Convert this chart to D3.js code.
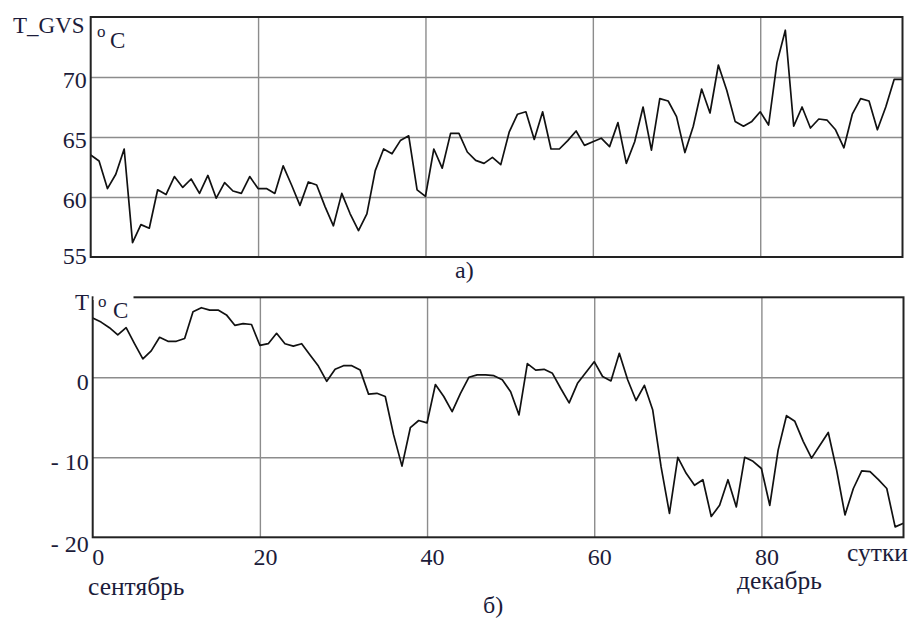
<!DOCTYPE html>
<html><head><meta charset="utf-8">
<script src="https://cdn.jsdelivr.net/npm/d3@7/dist/d3.min.js"></script>
<style>
body{margin:0;background:#fff}
svg{display:block}
svg text{font-family:"Liberation Serif","Times New Roman",serif !important;}
</style>
</head><body>
<script>
// ---- data ----
const days = d3.range(0, 98);
const tgvs = [63.5,63.0,60.7,61.9,64.0,56.2,57.7,57.4,60.6,60.2,
  61.7,60.8,61.5,60.3,61.8,59.9,61.2,60.5,60.3,61.7,
  60.7,60.7,60.3,62.6,61.0,59.3,61.25,61.0,59.2,57.6,
  60.3,58.6,57.2,58.6,62.2,64.0,63.6,64.7,65.1,60.6,
  60.05,64.0,62.4,65.3,65.3,63.75,63.05,62.8,63.3,62.7,
  65.4,66.9,67.1,64.8,67.1,64.0,64.0,64.7,65.5,64.3,
  64.6,64.9,64.2,66.2,62.8,64.6,67.5,63.9,68.2,68.0,
  66.7,63.7,65.9,69.0,67.0,71.0,68.9,66.3,65.9,66.3,
  67.1,66.0,71.2,73.9,65.9,67.5,65.75,66.5,66.4,65.6,
  64.1,66.9,68.2,68.0,65.6,67.5,69.8,69.8];
const tair = [7.4,6.9,6.2,5.3,6.2,4.2,2.3,3.3,5.0,4.5,
  4.5,4.85,8.2,8.7,8.4,8.4,7.8,6.5,6.7,6.6,
  4.0,4.2,5.5,4.2,3.9,4.2,2.8,1.4,-0.5,1.0,
  1.45,1.45,0.9,-2.1,-2.0,-2.4,-7.2,-11.1,-6.3,-5.4,
  -5.7,-0.9,-2.4,-4.3,-2.0,0,0.3,0.3,0.2,-0.3,
  -1.8,-4.7,1.7,0.9,1.0,0.5,-1.4,-3.2,-0.75,0.6,
  1.95,0.1,-0.45,3.0,-0.3,-2.9,-1.0,-4.1,-11.2,-17.0,
  -10.0,-12.0,-13.5,-12.8,-17.4,-16.0,-12.8,-16.2,-10.0,-10.5,
  -11.4,-16.0,-9.1,-4.8,-5.5,-8.0,-10.1,-8.5,-6.9,-11.6,
  -17.2,-13.9,-11.7,-11.8,-12.8,-13.9,-18.7,-18.25];
const xTicks = [0, 20, 40, 60, 80];
const topYTicks = [55, 60, 65, 70];
const botYTicks = [-20, -10, 0];
const fmtBot = v => v < 0 ? "- " + Math.abs(v) : String(v);

// ---- drawing ----
const W = 911, H = 621;
const FONT = '"Liberation Serif","Times New Roman",serif';
const TXT = "#1c1c3a";
const svg = d3.select("body").append("svg").attr("width", W).attr("height", H);

const xTop = d3.scaleLinear().domain([0, 97]).range([90.7, 902.5]);
const yTop = d3.scaleLinear().domain([55, 75]).range([257, 17]);
const xBot = d3.scaleLinear().domain([0, 97]).range([92.7, 903.5]);
const yBot = d3.scaleLinear().domain([-20, 10]).range([537.3, 297.3]);

function panel(x, y, yTicks, values, yFmt, dyFn, showX) {
  const g = svg.append("g");
  const [x0, x1] = x.range();
  const [yb, yt] = y.range();
  g.append("g").attr("transform", `translate(0,${yb})`)
    .call(d3.axisBottom(x).tickValues(xTicks.filter(t => t > 0)).tickSize(-(yb - yt)).tickFormat(""))
    .call(a => a.select(".domain").remove())
    .call(a => a.selectAll("line").attr("stroke", "#8c8c8c").attr("stroke-width", 1.4));
  g.append("g").attr("transform", `translate(${x0},0)`)
    .call(d3.axisLeft(y).tickValues(yTicks.filter(t => t > y.domain()[0])).tickSize(-(x1 - x0)).tickFormat(""))
    .call(a => a.select(".domain").remove())
    .call(a => a.selectAll("line").attr("stroke", "#8c8c8c").attr("stroke-width", 1.4));
  g.append("path").datum(values)
    .attr("fill", "none").attr("stroke", "#111").attr("stroke-width", 1.7)
    .attr("stroke-linejoin", "round")
    .attr("d", d3.line().x((d, i) => x(days[i])).y(d => y(d)));
  g.append("rect").attr("x", x0).attr("y", yt).attr("width", x1 - x0).attr("height", yb - yt)
    .attr("fill", "none").attr("stroke", "#222").attr("stroke-width", 2);
  g.append("g").attr("transform", `translate(${x0},0)`)
    .call(d3.axisLeft(y).tickValues(yTicks).tickSize(0).tickPadding(4).tickFormat(yFmt))
    .call(a => a.select(".domain").remove())
    .call(a => a.attr("font-family", FONT).attr("font-size", 24))
    .call(a => a.selectAll("text").attr("fill", TXT).attr("dy", d => dyFn(d)));
  if (showX) {
    g.append("g").attr("transform", `translate(5,${yb})`)
      .call(d3.axisBottom(x).tickValues(xTicks).tickSize(0).tickPadding(0))
      .call(a => a.select(".domain").remove())
      .call(a => a.attr("font-family", FONT).attr("font-size", 24))
      .call(a => a.selectAll("text").attr("fill", TXT).attr("dy", 28));
  }
  return g;
}

panel(xTop, yTop, topYTicks, tgvs, d => String(d), d => d === 55 ? 6 : 10.5, false);
panel(xBot, yBot, botYTicks, tair, fmtBot, d => d === -20 ? 14 : 12.5, true);

// white gap in top border behind the lower panel's label
svg.append("rect").attr("x", 93.5).attr("y", 292).attr("width", 40).attr("height", 8).attr("fill", "#fff");

function txt(s, x, y, size) {
  svg.append("text").attr("x", x).attr("y", y).attr("font-size", size)
    .attr("font-family", FONT).attr("fill", TXT).text(s);
}
txt("T_GVS", 13, 33, 23);
txt("o", 97, 37, 17);
txt("C", 110, 48, 23);
txt("а)", 455, 278, 24);
txt("T", 75, 310, 23);
txt("o", 98, 307, 17);
txt("C", 113, 318, 23);
txt("сутки", 847, 561, 25.5);
txt("декабрь", 737, 589, 25.5);
txt("сентябрь", 88, 595, 25.5);
txt("б)", 483, 613, 24);
</script>
</body></html>
